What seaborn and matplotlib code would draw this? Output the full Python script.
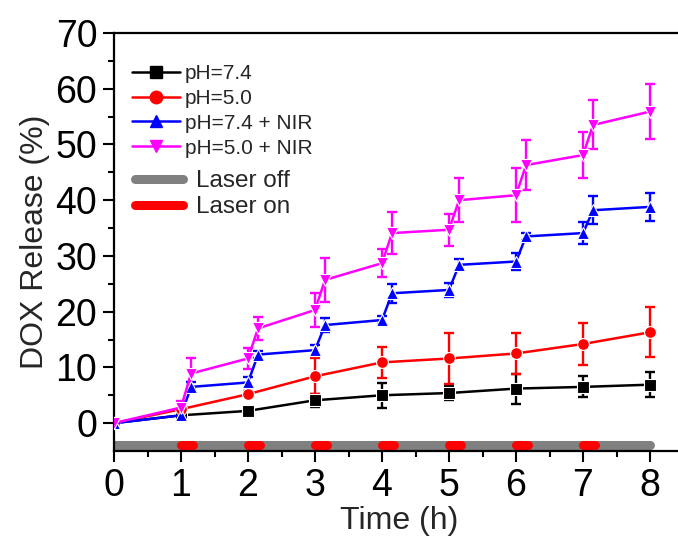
import numpy as np
import pandas as pd
import matplotlib
matplotlib.use("Agg")
import matplotlib.pyplot as plt
from matplotlib.lines import Line2D
import seaborn as sns

# ---- data ----
t_int = [0, 1, 2, 3, 4, 5, 6, 7, 8]
t_nir = [0, 1, 1.15, 2, 2.15, 3, 3.15, 4, 4.15, 5, 5.15, 6, 6.15, 7, 7.15, 8]

ph74 = [0, 1.4, 2.2, 4.1, 5.0, 5.4, 6.2, 6.5, 6.9]
ph74_err = [0.3, 0.5, 0.5, 1.2, 2.2, 1.2, 2.7, 1.9, 2.3]
ph50 = [0, 2.5, 5.2, 8.4, 10.9, 11.6, 12.5, 14.2, 16.3]
ph50_err = [0.3, 1.3, 0.6, 3.2, 2.8, 4.5, 3.6, 3.8, 4.5]
ph74_nir = [0, 1.4, 6.5, 7.3, 12.3, 13.1, 17.6, 18.5, 23.3, 23.9, 28.4, 29.0, 33.5, 34.1, 38.2, 38.8]
ph74_nir_err = [0.3, 0.5, 0.9, 1.0, 0.7, 0.9, 1.3, 0.8, 1.7, 1.3, 1.0, 1.6, 0.7, 1.9, 2.5, 2.5]
ph50_nir = [0, 2.8, 8.9, 11.6, 17.0, 20.3, 25.7, 28.7, 34.1, 34.7, 40.0, 40.9, 46.3, 48.1, 53.5, 55.9]
ph50_nir_err = [0.3, 1.1, 2.7, 1.9, 2.1, 3.0, 3.9, 2.5, 3.7, 2.9, 3.9, 4.8, 4.5, 4.2, 4.4, 5.0]

labels = ["pH=7.4", "pH=5.0", "pH=7.4 + NIR", "pH=5.0 + NIR"]
colors = ["#000000", "#FF0000", "#0000FF", "#FF00FF"]
markers = ["s", "o", "^", "v"]

laser_labels = ["Laser off", "Laser on"]
laser_colors = ["#808080", "#FF0000"]
laser_off = [0, 8]
laser_on_start = [1, 2, 3, 4, 5, 6, 7]
laser_on_len = 0.18
laser_y = -4.0

xticks = [0, 1, 2, 3, 4, 5, 6, 7, 8]
yticks = [0, 10, 20, 30, 40, 50, 60, 70]

# ---- frame ----
series = [(t_int, ph74, ph74_err), (t_int, ph50, ph50_err),
          (t_nir, ph74_nir, ph74_nir_err), (t_nir, ph50_nir, ph50_nir_err)]
rows = []
for lab, (tx, ys, es) in zip(labels, series):
    for a, b, c in zip(tx, ys, es):
        rows.append({"Time": a, "Release": b, "Err": c, "Series": lab})
df = pd.DataFrame(rows)

sns.set_theme(style="ticks")
plt.rcParams["font.family"] = ["Liberation Sans", "DejaVu Sans"]

fig = plt.figure(figsize=(6.78, 5.42), dpi=100)
W, H = 678, 542
ax = fig.add_axes([114 / W, 91 / H, 569.5 / W, 418 / H])

# laser bar
ax.plot(laser_off, [laser_y, laser_y], color=laser_colors[0], lw=6.5,
        solid_capstyle="round", zorder=1)
for s in laser_on_start:
    ax.plot([s, s + laser_on_len], [laser_y, laser_y], color=laser_colors[1],
            lw=6.5, solid_capstyle="round", zorder=2)

pal = dict(zip(labels, colors))
mk = dict(zip(labels, markers))
sns.lineplot(data=df, x="Time", y="Release", hue="Series", style="Series",
             hue_order=labels, style_order=labels, palette=pal, markers=mk,
             dashes=False, markersize=8.5, linewidth=1.8, markeredgewidth=0.8,
             ax=ax, legend=False, zorder=4, estimator=None, sort=True)
for lab in labels:
    sub = df[df["Series"] == lab]
    ax.errorbar(sub["Time"], sub["Release"], yerr=sub["Err"], fmt="none",
                ecolor=pal[lab], elinewidth=1.7, capsize=3.8, capthick=1.7,
                zorder=3)

ax.set_xlim(0, 8.5)
ax.set_ylim(-5, 70)
ax.set_xticks(xticks)
ax.set_yticks(yticks)
ax.set_xticks(np.arange(0.5, 8.5, 1.0), minor=True)
ax.set_yticks(np.arange(5, 70, 10), minor=True)
ax.tick_params(axis="both", which="major", direction="out", length=8,
               width=1.5, labelsize=27, color="black", labelcolor="black",
               pad=4)
ax.tick_params(axis="both", which="minor", direction="out", length=4.5,
               width=1.5, color="black")
ax.tick_params(top=False, right=False, which="both")
for sp in ["left", "bottom", "top"]:
    ax.spines[sp].set_linewidth(1.6)
    ax.spines[sp].set_color("black")
ax.spines["right"].set_visible(False)
ax.set_xlabel("Time (h)", fontsize=23, labelpad=2)
ax.set_ylabel("DOX Release (%)", fontsize=23, labelpad=4)
ax.grid(False)
ax.set_facecolor("white")

handles = [Line2D([], [], color=c, marker=m, lw=1.8, markersize=9)
           for c, m in zip(colors, markers)]
leg1 = fig.legend(handles, labels, loc="upper left",
                  bbox_to_anchor=(132 / W, 1 - 64 / H),
                  frameon=False, fontsize=15, handlelength=2.3,
                  handletextpad=0.25, labelspacing=0.28,
                  borderpad=0, borderaxespad=0)

lhandles = [Line2D([], [], color=c, lw=6.5, solid_capstyle="round")
            for c in laser_colors]
leg2 = fig.legend(lhandles, laser_labels, loc="upper left",
                  bbox_to_anchor=(134.5 / W, 1 - 170 / H),
                  frameon=False, fontsize=17.5, handlelength=2.0,
                  handletextpad=0.55, labelspacing=0.18,
                  borderpad=0, borderaxespad=0)

fig.savefig("out.png", dpi=100, facecolor="white")
